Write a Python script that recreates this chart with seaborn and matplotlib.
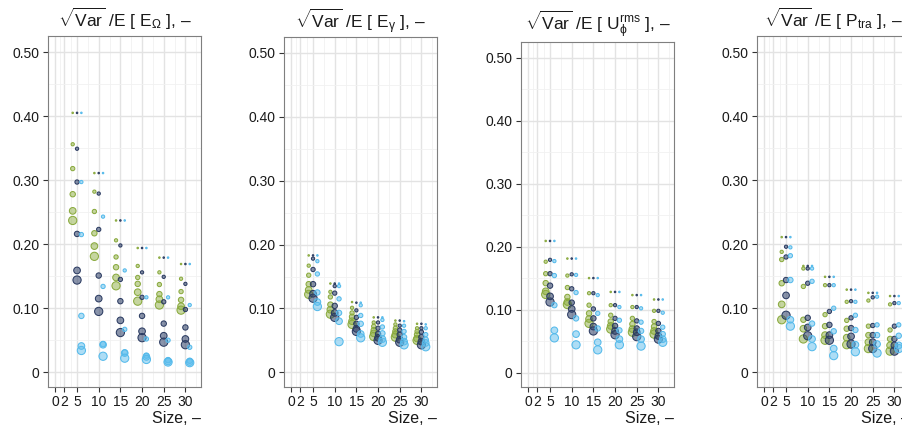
import pandas as pd
import seaborn as sns
import matplotlib
matplotlib.use("Agg")
import matplotlib.pyplot as plt
from matplotlib.ticker import FixedLocator

# sample sizes on the x axis, six resolution levels per point group
sizes = [5, 10, 15, 20, 25, 30]
levels = [1, 2, 3, 4, 5, 6]
groups = ["A", "B", "C"]

# panel 1: E_Omega  (rows = size, columns = level)
omega_a = [
    [0.405, 0.356, 0.318, 0.278, 0.252, 0.237],
    [0.311, 0.282, 0.251, 0.217, 0.197, 0.181],
    [0.237, 0.206, 0.180, 0.164, 0.148, 0.135],
    [0.194, 0.166, 0.148, 0.138, 0.125, 0.111],
    [0.179, 0.156, 0.137, 0.122, 0.114, 0.105],
    [0.169, 0.146, 0.126, 0.113, 0.103, 0.097],
]
omega_b = [
    [0.405, 0.349, 0.297, 0.216, 0.159, 0.144],
    [0.311, 0.279, 0.223, 0.151, 0.115, 0.095],
    [0.237, 0.198, 0.145, 0.111, 0.081, 0.062],
    [0.194, 0.156, 0.117, 0.088, 0.064, 0.054],
    [0.179, 0.149, 0.110, 0.076, 0.057, 0.047],
    [0.169, 0.138, 0.098, 0.070, 0.052, 0.043],
]
omega_c = [
    [0.405, 0.297, 0.215, 0.088, 0.041, 0.034],
    [0.311, 0.243, 0.134, 0.044, 0.043, 0.025],
    [0.237, 0.159, 0.067, 0.031, 0.030, 0.022],
    [0.194, 0.117, 0.052, 0.026, 0.024, 0.020],
    [0.179, 0.117, 0.050, 0.019, 0.017, 0.016],
    [0.169, 0.105, 0.039, 0.018, 0.016, 0.015],
]

# panel 2: E_gamma
gamma_a = [
    [0.183, 0.167, 0.152, 0.138, 0.129, 0.122],
    [0.139, 0.126, 0.118, 0.106, 0.098, 0.091],
    [0.110, 0.101, 0.093, 0.087, 0.080, 0.075],
    [0.086, 0.078, 0.072, 0.066, 0.061, 0.056],
    [0.081, 0.075, 0.069, 0.064, 0.059, 0.055],
    [0.076, 0.069, 0.064, 0.059, 0.053, 0.050],
]
gamma_b = [
    [0.183, 0.178, 0.161, 0.138, 0.123, 0.116],
    [0.139, 0.135, 0.124, 0.104, 0.093, 0.086],
    [0.109, 0.097, 0.086, 0.076, 0.068, 0.064],
    [0.086, 0.078, 0.069, 0.060, 0.054, 0.050],
    [0.081, 0.073, 0.066, 0.059, 0.051, 0.047],
    [0.076, 0.069, 0.063, 0.055, 0.048, 0.043],
]
gamma_c = [
    [0.183, 0.174, 0.154, 0.125, 0.110, 0.103],
    [0.139, 0.135, 0.115, 0.093, 0.080, 0.048],
    [0.109, 0.105, 0.089, 0.076, 0.060, 0.054],
    [0.086, 0.082, 0.071, 0.061, 0.052, 0.047],
    [0.080, 0.073, 0.064, 0.055, 0.048, 0.043],
    [0.075, 0.069, 0.059, 0.051, 0.046, 0.040],
]

# panel 3: U_phi rms
urms_a = [
    [0.209, 0.176, 0.157, 0.142, 0.129, 0.124],
    [0.181, 0.154, 0.135, 0.120, 0.112, 0.108],
    [0.150, 0.126, 0.107, 0.094, 0.085, 0.078],
    [0.128, 0.107, 0.091, 0.081, 0.074, 0.069],
    [0.123, 0.104, 0.086, 0.077, 0.069, 0.064],
    [0.116, 0.098, 0.081, 0.073, 0.066, 0.061],
]
urms_b = [
    [0.209, 0.179, 0.157, 0.138, 0.121, 0.112],
    [0.181, 0.156, 0.133, 0.111, 0.101, 0.092],
    [0.150, 0.126, 0.101, 0.086, 0.073, 0.066],
    [0.128, 0.107, 0.086, 0.074, 0.066, 0.060],
    [0.123, 0.104, 0.082, 0.070, 0.064, 0.057],
    [0.116, 0.098, 0.078, 0.066, 0.058, 0.053],
]
urms_c = [
    [0.209, 0.177, 0.154, 0.107, 0.067, 0.055],
    [0.181, 0.155, 0.127, 0.086, 0.061, 0.044],
    [0.150, 0.123, 0.094, 0.070, 0.048, 0.036],
    [0.128, 0.104, 0.083, 0.067, 0.053, 0.044],
    [0.123, 0.102, 0.080, 0.066, 0.053, 0.042],
    [0.116, 0.095, 0.072, 0.061, 0.053, 0.048],
]

# panel 4: P_tra
ptra_a = [
    [0.211, 0.188, 0.176, 0.139, 0.106, 0.082],
    [0.166, 0.162, 0.134, 0.082, 0.068, 0.052],
    [0.149, 0.136, 0.090, 0.072, 0.058, 0.050],
    [0.129, 0.110, 0.081, 0.068, 0.054, 0.043],
    [0.124, 0.112, 0.072, 0.058, 0.047, 0.037],
    [0.119, 0.106, 0.066, 0.052, 0.042, 0.033],
]
ptra_b = [
    [0.211, 0.196, 0.180, 0.144, 0.120, 0.089],
    [0.166, 0.162, 0.139, 0.085, 0.070, 0.057],
    [0.149, 0.136, 0.095, 0.074, 0.058, 0.050],
    [0.129, 0.111, 0.085, 0.069, 0.056, 0.044],
    [0.124, 0.117, 0.073, 0.058, 0.047, 0.037],
    [0.119, 0.108, 0.072, 0.052, 0.042, 0.033],
]
ptra_c = [
    [0.211, 0.195, 0.182, 0.144, 0.082, 0.072],
    [0.166, 0.162, 0.142, 0.076, 0.052, 0.040],
    [0.149, 0.136, 0.100, 0.064, 0.037, 0.026],
    [0.129, 0.110, 0.089, 0.066, 0.043, 0.032],
    [0.124, 0.118, 0.074, 0.058, 0.044, 0.030],
    [0.119, 0.108, 0.074, 0.057, 0.042, 0.037],
]

titles = [
    r"$\sqrt{\mathrm{Var}}$ /E [ E$_{\Omega}$ ], –",
    r"$\sqrt{\mathrm{Var}}$ /E [ E$_{\mathrm{\gamma}}$ ], –",
    r"$\sqrt{\mathrm{Var}}$ /E [ U$^{\mathrm{rms}}_{\mathrm{\phi}}$ ], –",
    r"$\sqrt{\mathrm{Var}}$ /E [ P$_{\mathrm{tra}}$ ], –",
]
panels = [
    (omega_a, omega_b, omega_c),
    (gamma_a, gamma_b, gamma_c),
    (urms_a, urms_b, urms_c),
    (ptra_a, ptra_b, ptra_c),
]

x_ticks = [0, 2, 5, 10, 15, 20, 25, 30]
y_ticks = [0, 0.1, 0.2, 0.3, 0.4, 0.5]
y_labels = ["0", "0.10", "0.20", "0.30", "0.40", "0.50"]


def to_frame(series):
    rows = []
    for g, table in zip(groups, series):
        for s, vals in zip(sizes, table):
            for lev, v in zip(levels, vals):
                rows.append({"group": g, "size": s, "level": lev, "value": v})
    return pd.DataFrame(rows)


sns.set_theme(style="whitegrid")
plt.rcParams["font.family"] = ["Liberation Sans", "DejaVu Sans"]
plt.rcParams["mathtext.fontset"] = "custom"
plt.rcParams["mathtext.rm"] = "Liberation Sans"
plt.rcParams["mathtext.it"] = "Liberation Sans:italic"
plt.rcParams["mathtext.bf"] = "Liberation Sans:bold"

face = {"A": (0.55, 0.68, 0.25, 0.5), "B": (0.17, 0.24, 0.40, 0.55), "C": (0.36, 0.74, 0.93, 0.5)}
edge = {"A": "#8AAA3E", "B": "#2C3C62", "C": "#55BAEB"}
offset = {"A": -1, "B": 0, "C": 1}
area = {1: 1.2, 2: 5.5, 3: 9.5, 4: 15, 5: 23, 6: 35}

fig = plt.figure(figsize=(9.02, 4.30), dpi=100)
W, H = 902, 430
lefts = [48, 284, 521, 757]
tops = [36, 37, 42, 36]
bottom = 387
pads = [6.5, 6.5, 8.5, 6.5]

for i, (series, title) in enumerate(zip(panels, titles)):
    ax = fig.add_axes([lefts[i] / W, (H - bottom) / H, 153 / W, (bottom - tops[i]) / H])
    df = to_frame(series)
    df["x"] = df["size"] + df["group"].map(offset)
    for g in groups:
        sub = df[df["group"] == g]
        sns.scatterplot(data=sub, x="x", y="value", size="level", sizes=area,
                        color=face[g], edgecolor=edge[g], linewidth=0.75,
                        legend=False, ax=ax, zorder=3)

    ax.set_xlim(-1.7, 33.6)
    ax.set_ylim(-0.023, 0.525)
    ax.set_xticks(x_ticks)
    ax.set_xticklabels([str(t) for t in x_ticks])
    ax.set_yticks(y_ticks)
    ax.set_yticklabels(y_labels)
    ax.xaxis.set_minor_locator(FixedLocator([1, 3.5, 7.5, 12.5, 17.5, 22.5, 27.5, 32.5]))
    ax.yaxis.set_minor_locator(FixedLocator([0.05, 0.15, 0.25, 0.35, 0.45]))
    ax.grid(which="major", color="#E3E3E3", linewidth=1.0)
    ax.grid(which="minor", color="#F1F1F1", linewidth=0.6)
    ax.set_axisbelow(True)
    ax.tick_params(which="major", direction="out", length=3.5, width=0.8,
                   color="#333333", labelsize=10, labelcolor="#1A1A1A",
                   pad=2.5, bottom=True, left=True)
    ax.tick_params(which="minor", length=0)
    for sp in ax.spines.values():
        sp.set_color("#7F7F7F")
        sp.set_linewidth(0.8)
    ax.set_title(title, fontsize=12.5, pad=pads[i], color="#1A1A1A")
    ax.set_xlabel("Size, –", loc="right", fontsize=11.5, labelpad=1, color="#1A1A1A")
    ax.set_ylabel("")

fig.savefig("out.png", dpi=100)
